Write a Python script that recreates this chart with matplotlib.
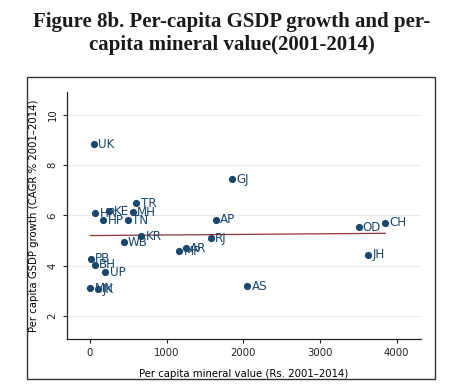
import numpy as np
import matplotlib
matplotlib.use('Agg')
from matplotlib import pyplot as plt
from matplotlib.patches import Rectangle

# per-capita mineral value (Rs.) and per-capita GSDP CAGR (%), 2001-2014
states = ['UK', 'GJ', 'TR', 'HR', 'KE', 'MH', 'HP', 'TN', 'AP', 'KR', 'WB', 'RJ',
          'MP', 'AR', 'PB', 'BH', 'UP', 'MN', 'JK', 'AS', 'OD', 'CH', 'JH']
mineral_value = [52, 1851, 604, 69, 252, 556, 174, 491, 1643, 669, 439, 1573,
                 1165, 1247, 9, 65, 200, 4, 108, 2051, 3503, 3851, 3629]
gsdp_growth = [8.83, 7.43, 6.48, 6.08, 6.16, 6.13, 5.81, 5.81, 5.83, 5.17, 4.93, 5.08,
               4.57, 4.69, 4.27, 4.04, 3.73, 3.09, 3.05, 3.17, 5.53, 5.71, 4.43]
x_ticks = [0, 1000, 2000, 3000, 4000]
y_ticks = [2, 4, 6, 8, 10]

navy = '#1a476f'
fit_color = '#90353b'

fig = plt.figure(figsize=(4.59, 3.9), dpi=100)
fig.patch.set_facecolor('white')

# outer frame around the graph
fig.patches.append(Rectangle((27.3 / 459, 1 - 379 / 390), (435 - 27.3) / 459, (379 - 77.3) / 390,
                             transform=fig.transFigure, fill=False, edgecolor='#333333', lw=1.0))

fig.text(0.505, 1 - 12 / 390, 'Figure 8b. Per-capita GSDP growth and per-\ncapita mineral value(2001-2014)',
         ha='center', va='top', fontsize=15, fontweight='bold', family='Liberation Serif',
         color='#1a1a1a', linespacing=1.2)

ax = fig.add_axes([66.7 / 459, 1 - 339 / 390, (420.7 - 66.7) / 459, (339 - 91.7) / 390])
ax.set_xlim(-304, 4312)
ax.set_ylim(1.07, 10.93)

for y in y_ticks:
    ax.axhline(y, color='#eaeaea', lw=0.8, zorder=0)

ax.scatter(mineral_value, gsdp_growth, s=27, color=navy, zorder=3, linewidths=0)
for s, xv, yv in zip(states, mineral_value, gsdp_growth):
    ax.annotate(s, (xv, yv), xytext=(3, 0), textcoords='offset points', va='center', ha='left',
                fontsize=8.6, color=navy, zorder=4)

# linear fit
slope, intercept = np.polyfit(mineral_value, gsdp_growth, 1)
xf = np.array([min(mineral_value), max(mineral_value)])
ax.plot(xf, intercept + slope * xf, color=fit_color, lw=0.9, zorder=2)

ax.set_xticks(x_ticks)
ax.set_yticks(y_ticks)
ax.set_yticklabels([str(v) for v in y_ticks], rotation=90, va='center')
ax.tick_params(labelsize=7.3, colors='#222222', length=3, width=0.8)
ax.spines['top'].set_visible(False)
ax.spines['right'].set_visible(False)
for sp in ['left', 'bottom']:
    ax.spines[sp].set_color('#222222')
    ax.spines[sp].set_linewidth(0.9)

ax.set_xlabel('Per capita mineral value (Rs. 2001\u20132014)', fontsize=7.3, labelpad=8)
ax.set_ylabel('Per capita GSDP growth (CAGR % 2001\u20132014)', fontsize=7.3, labelpad=6)

fig.savefig('out.png', dpi=100)
